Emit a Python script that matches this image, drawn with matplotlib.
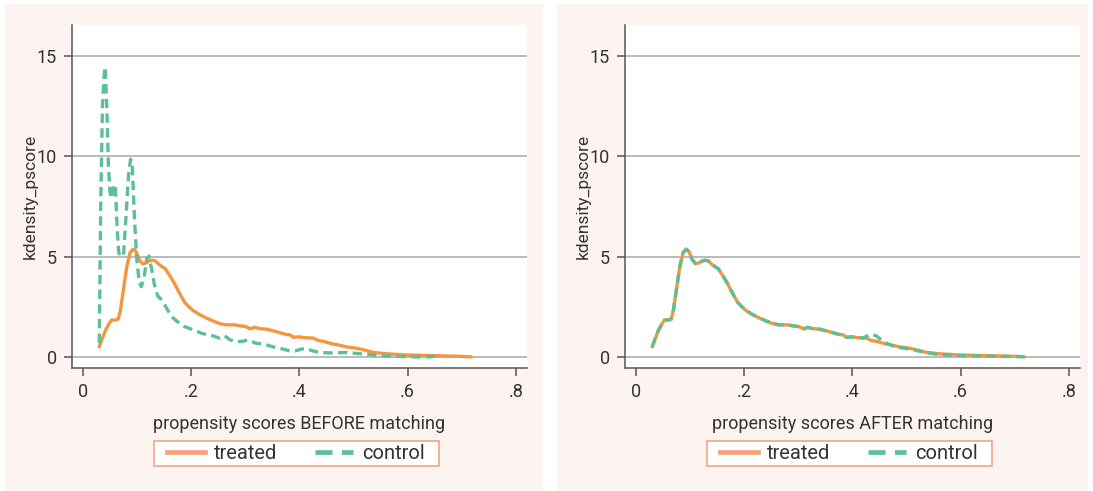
import numpy as np
import matplotlib
matplotlib.use('Agg')
import matplotlib.pyplot as plt
from matplotlib.patches import Rectangle
from matplotlib.lines import Line2D

plt.rcParams['font.family'] = ['Roboto', 'DejaVu Sans']

# kernel density values
x_treated = [0.030, 0.036, 0.042, 0.048, 0.053, 0.060, 0.065, 0.069, 0.075, 0.081,
             0.087, 0.093, 0.098, 0.104, 0.110, 0.116, 0.122, 0.128, 0.134, 0.140,
             0.146, 0.152, 0.158, 0.164, 0.170, 0.176, 0.182, 0.188, 0.195, 0.204,
             0.215, 0.225, 0.238, 0.253, 0.265, 0.280, 0.290, 0.300, 0.310, 0.318,
             0.325, 0.340, 0.352, 0.365, 0.376, 0.383, 0.389, 0.400, 0.410, 0.426,
             0.435, 0.444, 0.460, 0.475, 0.487, 0.500, 0.515, 0.536, 0.560, 0.598,
             0.640, 0.672, 0.700, 0.718]
y_treated = [0.50, 0.95, 1.35, 1.65, 1.84, 1.84, 1.88, 2.30, 3.40, 4.50,
             5.20, 5.37, 5.25, 4.85, 4.65, 4.68, 4.78, 4.82, 4.78, 4.62,
             4.50, 4.40, 4.15, 3.90, 3.62, 3.30, 3.00, 2.72, 2.52, 2.30,
             2.12, 1.98, 1.82, 1.66, 1.60, 1.60, 1.55, 1.52, 1.40, 1.48,
             1.42, 1.38, 1.30, 1.20, 1.12, 1.10, 0.98, 1.00, 0.96, 0.94,
             0.82, 0.78, 0.66, 0.58, 0.50, 0.46, 0.38, 0.23, 0.16, 0.10,
             0.07, 0.05, 0.03, 0.00]

x_control = [0.030, 0.033, 0.036, 0.039, 0.041, 0.044, 0.047, 0.050, 0.053, 0.057,
             0.060, 0.063, 0.066, 0.070, 0.075, 0.080, 0.084, 0.088, 0.091, 0.095,
             0.099, 0.104, 0.108, 0.113, 0.118, 0.122, 0.126, 0.132, 0.138, 0.145,
             0.152, 0.164, 0.175, 0.188, 0.204, 0.219, 0.228, 0.240, 0.253, 0.262,
             0.272, 0.283, 0.295, 0.305, 0.318, 0.339, 0.352, 0.364, 0.380, 0.392,
             0.405, 0.413, 0.425, 0.438, 0.460, 0.487, 0.518, 0.540, 0.560, 0.600,
             0.630, 0.660]
y_control = [0.70, 8.00, 12.50, 14.00, 14.45, 12.50, 9.50, 8.20, 7.90, 8.60,
             8.40, 6.50, 5.20, 5.00, 5.10, 7.20, 9.00, 9.85, 9.60, 7.00,
             5.00, 3.70, 3.50, 4.00, 4.90, 5.03, 4.50, 3.60, 3.05, 2.85,
             2.55, 2.00, 1.75, 1.51, 1.35, 1.18, 1.12, 1.05, 0.93, 1.05,
             0.85, 0.76, 0.78, 0.85, 0.70, 0.60, 0.50, 0.43, 0.32, 0.30,
             0.40, 0.42, 0.30, 0.22, 0.20, 0.22, 0.15, 0.08, 0.05, 0.01,
             0.00, 0.03]

# after matching: treated group unchanged, matched controls
x_treated_after = x_treated
y_treated_after = y_treated
x_control_after = [0.030, 0.036, 0.042, 0.048, 0.053, 0.060, 0.065, 0.069, 0.075, 0.081,
                   0.087, 0.093, 0.098, 0.104, 0.110, 0.116, 0.122, 0.128, 0.134, 0.140,
                   0.146, 0.152, 0.158, 0.164, 0.170, 0.176, 0.182, 0.188, 0.195, 0.204,
                   0.215, 0.225, 0.238, 0.253, 0.265, 0.280, 0.290, 0.300, 0.310, 0.318,
                   0.325, 0.340, 0.352, 0.365, 0.376, 0.383, 0.389, 0.400, 0.410, 0.420,
                   0.428, 0.436, 0.444, 0.452, 0.460, 0.475, 0.487, 0.500, 0.515, 0.536,
                   0.560, 0.598, 0.640, 0.672, 0.700, 0.718]
y_control_after = [0.50, 0.95, 1.35, 1.65, 1.84, 1.84, 1.88, 2.30, 3.40, 4.50,
                   5.20, 5.37, 5.25, 4.85, 4.65, 4.68, 4.78, 4.82, 4.78, 4.62,
                   4.50, 4.40, 4.15, 3.90, 3.62, 3.30, 3.00, 2.72, 2.52, 2.30,
                   2.12, 1.98, 1.82, 1.66, 1.60, 1.60, 1.55, 1.52, 1.40, 1.48,
                   1.42, 1.38, 1.30, 1.20, 1.12, 1.10, 0.98, 1.00, 0.96, 0.95,
                   1.05, 1.14, 1.05, 0.88, 0.72, 0.55, 0.47, 0.42, 0.34, 0.22,
                   0.12, 0.07, 0.04, 0.03, 0.02, 0.02]

xticks = [0, 0.2, 0.4, 0.6, 0.8]
xtick_labels = ['0', '.2', '.4', '.6', '.8']
yticks = [0, 5, 10, 15]
xlabels = ['propensity scores BEFORE matching', 'propensity scores AFTER matching']
legend_labels = ['treated', 'control']

c_treat = '#f5963e'
c_ctrl = '#5cbf97'
c_treat_leg = '#f8a07a'
bg = '#fdf4f1'

fig = plt.figure(figsize=(10.93, 4.91), dpi=100)
fig.patch.set_facecolor('white')
W, H = 1093, 491
for x0, x1 in [(5, 543), (557, 1088)]:
    fig.patches.append(Rectangle((x0 / W, 1 - 490 / H), (x1 - x0) / W, 486 / H,
                                 transform=fig.transFigure, facecolor=bg,
                                 edgecolor='none', zorder=-10))

panels = [
    (72, x_treated, y_treated, x_control, y_control, xlabels[0]),
    (625, x_treated_after, y_treated_after, x_control_after, y_control_after, xlabels[1]),
]

legends = []
for left_px, xt, yt, xc, yc, xlab in panels:
    ax = fig.add_axes([left_px / W, 1 - 368 / H, 455 / W, 343 / H])
    ax.set_facecolor('white')
    for y in yticks:
        ax.axhline(y, color='#a8a8a8', lw=1.1, zorder=1)
    ax.plot(xt, yt, color=c_treat, lw=2.4, solid_capstyle='round', zorder=3)
    ax.plot(xc, yc, color=c_ctrl, lw=2.4, dashes=(2.8, 1.6), zorder=4)
    ax.set_xlim(-0.0203, 0.8207)
    ax.set_ylim(-0.55, 16.54)
    ax.set_xticks(xticks)
    ax.set_xticklabels(xtick_labels)
    ax.set_yticks(yticks)
    for s in ['top', 'right']:
        ax.spines[s].set_visible(False)
    for s in ['left', 'bottom']:
        ax.spines[s].set_color('#555555')
        ax.spines[s].set_linewidth(1.1)
    ax.tick_params(direction='out', length=6, width=1.1, color='#555555',
                   labelsize=13, labelcolor='#333333', pad=5)
    ax.set_xlabel(xlab, fontsize=13, color='#333333', labelpad=10)
    ax.set_ylabel('kdensity_pscore', fontsize=12.5, color='#333333', labelpad=-1)

    handles = [Line2D([], [], color=c_treat_leg, lw=3.4),
               Line2D([], [], color=c_ctrl, lw=3.4, dashes=(3.6, 2.0))]
    cx = (left_px + 224) / W
    leg = ax.legend(handles, legend_labels, loc='center', ncol=2,
                    bbox_to_anchor=(cx, 1 - 453.5 / H), bbox_transform=fig.transFigure,
                    fontsize=14.5, frameon=False, handlelength=1.9,
                    columnspacing=1.85, handletextpad=0.45, borderpad=0.22,
                    borderaxespad=0)
    for t in leg.get_texts():
        t.set_color('#333333')
    legends.append(leg)

# legend frame, a bit wider than the entries
fig.canvas.draw()
for leg in legends:
    bb = leg.get_window_extent()
    x0, x1 = bb.x0 - 9, bb.x1 + 10
    y0, y1 = bb.y0 + 1, bb.y1 - 1
    fig.patches.append(Rectangle((x0 / W, y0 / H), (x1 - x0) / W, (y1 - y0) / H,
                                 transform=fig.transFigure, facecolor='white',
                                 edgecolor='#f4a584', lw=1.2, zorder=-5))

fig.savefig('out.png', dpi=100, facecolor=fig.get_facecolor())
